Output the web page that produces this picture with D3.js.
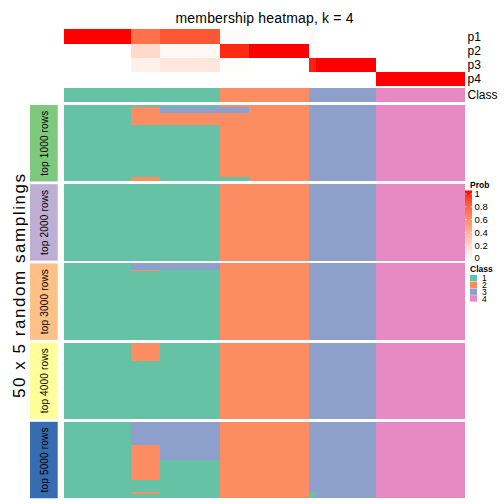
<!DOCTYPE html>
<html>
<head>
<meta charset="utf-8">
<script src="https://cdn.jsdelivr.net/npm/d3@7"></script>
<style>
  html, body { margin: 0; padding: 0; background: #fff; }
  svg { display: block; }
  text { font-family: "Liberation Sans", Arial, Helvetica, sans-serif; fill: #000; }
</style>
</head>
<body>
<script>
// ---------------- DATA ----------------
const titleText = "membership heatmap, k = 4";
const yAxisTitle = "50 x 5 random samplings";
// samples are grouped into column blocks of identical behaviour
const groupSizes = [30, 13, 27, 13, 27, 3, 27, 40];
// membership probabilities per column block
const probP1 = [1.00, 0.72, 0.82, 0.02, 0.00, 0.03, 0.00, 0.00];
const probP2 = [0.00, 0.20, 0.04, 0.95, 1.00, 0.00, 0.00, 0.00];
const probP3 = [0.00, 0.08, 0.13, 0.02, 0.00, 0.97, 1.00, 0.00];
const probP4 = [0.00, 0.00, 0.00, 0.00, 0.00, 0.00, 0.00, 1.00];
const probNames = ["p1", "p2", "p3", "p4"];
const consensusClass = [1, 1, 1, 2, 2, 3, 3, 4];
const classLevels = [1, 2, 3, 4];
const probTicks = [0, 0.2, 0.4, 0.6, 0.8, 1];

const sliceNames = ["top 1000 rows", "top 2000 rows", "top 3000 rows", "top 4000 rows", "top 5000 rows"];
const rowsPerSlice = 50;
// each slice: [number of consecutive samplings, class per column block]
const slice1000 = [
  [1,  [1, 1, 1, 2, 2, 3, 3, 4]],
  [4,  [1, 2, 3, 3, 2, 3, 3, 4]],
  [8,  [1, 2, 2, 2, 2, 3, 3, 4]],
  [34, [1, 1, 1, 2, 2, 3, 3, 4]],
  [3,  [1, 2, 1, 1, 2, 3, 3, 4]]
];
const slice2000 = [
  [50, [1, 1, 1, 2, 2, 3, 3, 4]]
];
const slice3000 = [
  [4,  [1, 3, 3, 2, 2, 3, 3, 4]],
  [1,  [1, 2, 1, 2, 2, 3, 3, 4]],
  [45, [1, 1, 1, 2, 2, 3, 3, 4]]
];
const slice4000 = [
  [12, [1, 2, 1, 2, 2, 3, 3, 4]],
  [37, [1, 1, 1, 2, 2, 3, 3, 4]],
  [1,  [1, 1, 1, 2, 2, 1, 3, 4]]
];
const slice5000 = [
  [15, [1, 3, 3, 2, 2, 3, 3, 4]],
  [10, [1, 2, 3, 2, 2, 3, 3, 4]],
  [13, [1, 2, 1, 2, 2, 3, 3, 4]],
  [8,  [1, 1, 1, 2, 2, 3, 3, 4]],
  [1,  [1, 2, 1, 2, 2, 1, 3, 4]],
  [3,  [1, 1, 1, 2, 2, 1, 3, 4]]
];

// ---------------- STYLE ----------------
const classColors = ["#66C2A5", "#FC8D62", "#8DA0CB", "#E78AC3"];
const sliceColors = ["#7FC97F", "#BEAED4", "#FDC086", "#FFFF99", "#386CB0"];

const W = 504, H = 504;
const hmLeft = 64, hmRight = 465;
const annTop = 29.3, annRowH = 14.25;
const classTop = 88, classH = 13.7;
const hmTop = 105, sliceH = 76.45, sliceGap = 2.75;

const svg = d3.select("body").append("svg").attr("width", W).attr("height", H);

const nSamples = d3.sum(groupSizes);
const starts = d3.cumsum([0, ...groupSizes]);
const x = d3.scaleLinear().domain([0, nSamples]).range([hmLeft, hmRight]);
const probColor = d3.scaleLinear().domain([0, 1]).range(["#FFFFFF", "#FF0000"]).interpolate(d3.interpolateLab);
const classColor = d3.scaleOrdinal().domain(classLevels).range(classColors);

// title
svg.append("text").attr("x", (hmLeft + hmRight) / 2).attr("y", 23)
  .attr("text-anchor", "middle").style("font-size", "14px")
  .attr("textLength", 178).attr("lengthAdjust", "spacing").text(titleText);

// probability annotation rows
const probRows = [probP1, probP2, probP3, probP4];
const annG = svg.append("g").attr("shape-rendering", "crispEdges");
probRows.forEach((vals, r) => {
  const y0 = annTop + r * annRowH;
  annG.selectAll(null).data(vals).enter().append("rect")
    .attr("x", (d, i) => x(starts[i]))
    .attr("width", (d, i) => x(starts[i + 1]) - x(starts[i]))
    .attr("y", y0).attr("height", annRowH)
    .attr("fill", d => probColor(d));
  svg.append("text").attr("x", 467.5).attr("y", y0 + annRowH / 2)
    .attr("dy", "0.36em").style("font-size", "12px").text(probNames[r]);
});
// class annotation row
annG.selectAll(null).data(consensusClass).enter().append("rect")
  .attr("x", (d, i) => x(starts[i]))
  .attr("width", (d, i) => x(starts[i + 1]) - x(starts[i]))
  .attr("y", classTop).attr("height", classH)
  .attr("fill", d => classColor(d));
svg.append("text").attr("x", 467.5).attr("y", classTop + classH / 2)
  .attr("dy", "0.36em").style("font-size", "12px").text("Class");

// heatmap slices
const slices = [slice1000, slice2000, slice3000, slice4000, slice5000];
const hmG = svg.append("g").attr("shape-rendering", "crispEdges");
slices.forEach((blocks, s) => {
  const top = hmTop + s * (sliceH + sliceGap);
  const y = d3.scaleLinear().domain([0, rowsPerSlice]).range([top, top + sliceH]);
  const rowStarts = d3.cumsum([0, ...blocks.map(b => b[0])]);
  blocks.forEach((b, bi) => {
    hmG.selectAll(null).data(b[1]).enter().append("rect")
      .attr("x", (d, i) => x(starts[i]))
      .attr("width", (d, i) => x(starts[i + 1]) - x(starts[i]))
      .attr("y", y(rowStarts[bi]))
      .attr("height", y(rowStarts[bi + 1]) - y(rowStarts[bi]))
      .attr("fill", d => classColor(d));
  });
  // slice label box
  svg.append("rect").attr("x", 30).attr("width", 27.7)
    .attr("y", top).attr("height", sliceH).attr("fill", sliceColors[s]);
  const cx = 44, cy = top + sliceH / 2;
  svg.append("text").attr("transform", `translate(${cx},${cy}) rotate(-90)`)
    .attr("text-anchor", "middle").attr("dy", "0.36em")
    .style("font-size", "10px").attr("textLength", 65).attr("lengthAdjust", "spacing")
    .text(sliceNames[s]);
});

// y axis title
svg.append("text").attr("transform", `translate(18.5,286) rotate(-90)`)
  .attr("text-anchor", "middle").attr("dy", "0.36em")
  .style("font-size", "17px").attr("textLength", 224).attr("lengthAdjust", "spacing")
  .text(yAxisTitle);

// ---------------- LEGENDS ----------------
svg.append("text").attr("x", 470).attr("y", 188)
  .style("font-size", "8.5px").style("font-weight", "bold").text("Prob");
const defs = svg.append("defs");
const grad = defs.append("linearGradient").attr("id", "probGrad")
  .attr("x1", 0).attr("y1", 1).attr("x2", 0).attr("y2", 0);
d3.range(0, 1.0001, 0.1).forEach(t => {
  grad.append("stop").attr("offset", t).attr("stop-color", probColor(t));
});
const barTop = 190.5, barBot = 260, barX = 465, barW = 7;
svg.append("rect").attr("x", barX).attr("y", barTop).attr("width", barW)
  .attr("height", barBot - barTop).attr("fill", "url(#probGrad)");
const ly = d3.scaleLinear().domain([0, 1]).range([258, 194]);
probTicks.forEach(t => {
  svg.append("line").attr("x1", barX).attr("x2", barX + 1.5).attr("y1", ly(t)).attr("y2", ly(t))
    .attr("stroke", "#fff").attr("stroke-width", 0.6);
  svg.append("line").attr("x1", barX + barW - 1.5).attr("x2", barX + barW).attr("y1", ly(t)).attr("y2", ly(t))
    .attr("stroke", "#fff").attr("stroke-width", 0.6);
  svg.append("text").attr("x", barX + barW + 2.5).attr("y", ly(t)).attr("dy", "0.36em")
    .style("font-size", "9.5px").text(d3.format("")(t));
});

svg.append("text").attr("x", 470).attr("y", 271.5)
  .style("font-size", "8.5px").style("font-weight", "bold").text("Class");
const boxY = d3.scaleBand().domain(classLevels).range([275, 302]);
svg.selectAll(null).data(classLevels).enter().append("rect")
  .attr("x", 470).attr("width", 7)
  .attr("y", d => boxY(d)).attr("height", boxY.bandwidth() - 0.4)
  .attr("fill", d => classColor(d));
svg.selectAll(null).data(classLevels).enter().append("text")
  .attr("x", 482).attr("y", d => boxY(d) + boxY.bandwidth() / 2).attr("dy", "0.36em")
  .style("font-size", "8.5px").text(d => d);
</script>
</body>
</html>
